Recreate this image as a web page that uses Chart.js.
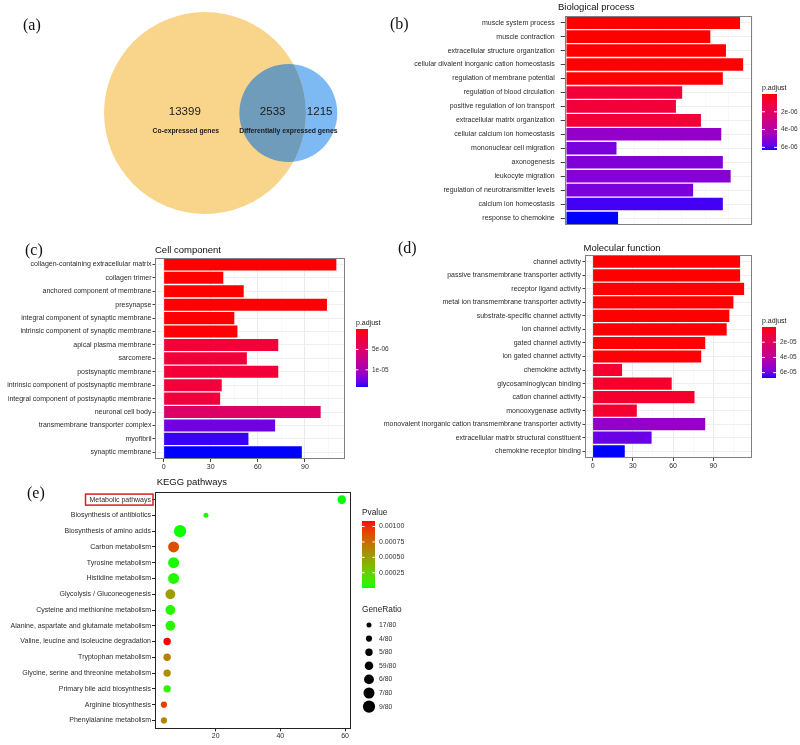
<!DOCTYPE html>
<html>
<head>
<meta charset="utf-8">
<script src="https://cdn.jsdelivr.net/npm/chart.js@4.4.1/dist/chart.umd.min.js"></script>
<style>
  body { margin: 0; background: #fff; }
  #fig { position: relative; width: 800px; height: 745px; overflow: hidden; background: #fff; }
  canvas { position: absolute; }
  .tag { position: absolute; font-family: "Liberation Serif", "Times New Roman", serif; font-size: 16px; line-height: 16px; color: #111; }
</style>
</head>
<body>
<div id="fig">
  <canvas id="venn" width="390" height="225" style="left:0;top:0"></canvas>
  <canvas id="bp" width="410" height="242" style="left:390px;top:0"></canvas>
  <canvas id="cc" width="400" height="235" style="left:0;top:240px"></canvas>
  <canvas id="mf" width="455" height="235" style="left:345px;top:240px"></canvas>
  <canvas id="kegg" width="420" height="273" style="left:0;top:472px"></canvas>
  <div class="tag" style="left:23px;top:17px">(a)</div>
  <div class="tag" style="left:390px;top:16px">(b)</div>
  <div class="tag" style="left:25px;top:242px">(c)</div>
  <div class="tag" style="left:398px;top:240px">(d)</div>
  <div class="tag" style="left:27px;top:485px">(e)</div>
</div>
<script>
// ---- (a) Venn counts ----
const vennSets = ['Co-expressed genes', 'Differentially expressed genes'];
const vennOnlyA = 13399;
const vennBoth = 2533;
const vennOnlyB = 1215;

// ---- (b) Biological process ----
const bpTerms = ['muscle system process', 'muscle contraction', 'extracellular structure organization',
  'cellular divalent inorganic cation homeostasis', 'regulation of membrane potential',
  'regulation of blood circulation', 'positive regulation of ion transport', 'extracellular matrix organization',
  'cellular calcium ion homeostasis', 'mononuclear cell migration', 'axonogenesis', 'leukocyte migration',
  'regulation of neurotransmitter levels', 'calcium ion homeostasis', 'response to chemokine'];
const bpCounts = [111, 92, 102, 113, 100, 74, 70, 86, 99, 32, 100, 105, 81, 100, 33];
const bpPadj = [1e-9, 2e-9, 3e-9, 1.5e-9, 8e-9, 9.5e-7, 1.0e-6, 9e-7, 4.9e-6, 5.4e-6, 5.3e-6, 5.2e-6, 5.4e-6, 6.05e-6, 6.3e-6];
const bpTicks = ['2e-06', '4e-06', '6e-06'];

// ---- (c) Cell component ----
const ccTerms = ['collagen-containing extracellular matrix', 'collagen trimer', 'anchored component of membrane',
  'presynapse', 'integral component of synaptic membrane', 'intrinsic component of synaptic membrane',
  'apical plasma membrane', 'sarcomere', 'postsynaptic membrane', 'intrinsic component of postsynaptic membrane',
  'integral component of postsynaptic membrane', 'neuronal cell body', 'transmembrane transporter complex',
  'myofibril', 'synaptic membrane'];
const ccCounts = [110, 38, 51, 104, 45, 47, 73, 53, 73, 37, 36, 100, 71, 54, 88];
const ccPadj = [1e-8, 2e-8, 3e-8, 5e-8, 1e-7, 1.2e-7, 2.1e-6, 2.2e-6, 2.1e-6, 2.3e-6, 2.4e-6, 5.0e-6, 1.25e-5, 1.38e-5, 1.42e-5];
const ccTicks = ['5e-06', '1e-05'];

// ---- (d) Molecular function ----
const mfTerms = ['channel activity', 'passive transmembrane transporter activity', 'receptor ligand activity',
  'metal ion transmembrane transporter activity', 'substrate-specific channel activity', 'ion channel activity',
  'gated channel activity', 'ion gated channel activity', 'chemokine activity', 'glycosaminoglycan binding',
  'cation channel activity', 'monooxygenase activity',
  'monovalent inorganic cation transmembrane transporter activity',
  'extracellular matrix structural constituent', 'chemokine receptor binding'];
const mfCounts = [110, 110, 113, 105, 102, 100, 84, 81, 22, 59, 76, 33, 84, 44, 24];
const mfPadj = [1e-8, 1e-8, 2e-8, 5e-8, 1e-7, 2e-7, 5e-7, 8e-7, 8e-6, 7e-6, 7.5e-6, 8.5e-6, 5.2e-5, 6.0e-5, 6.7e-5];
const mfTicks = ['2e-05', '4e-05', '6e-05'];

// ---- (e) KEGG pathways ----
const keggTerms = ['Metabolic pathways', 'Biosynthesis of antibiotics', 'Biosynthesis of amino acids',
  'Carbon metabolism', 'Tyrosine metabolism', 'Histidine metabolism', 'Glycolysis / Gluconeogenesis',
  'Cysteine and methionine metabolism', 'Alanine, aspartate and glutamate metabolism',
  'Valine, leucine and isoleucine degradation', 'Tryptophan metabolism',
  'Glycine, serine and threonine metabolism', 'Primary bile acid biosynthesis', 'Arginine biosynthesis',
  'Phenylalanine metabolism'];
const keggCounts = [59, 17, 9, 7, 7, 7, 6, 6, 6, 5, 5, 5, 5, 4, 4];
const keggPvalue = [2e-6, 3e-5, 1e-5, 0.00086, 2e-5, 4e-5, 0.00051, 5e-5, 6e-5, 0.00109, 0.00065, 0.00057, 7e-5, 0.00094, 0.00061];
const keggTotal = 80;
const keggTicks = ['0.00100', '0.00075', '0.00050', '0.00025'];
const keggHighlight = 'Metabolic pathways';

const FONT = '"Liberation Sans", Arial, Helvetica, sans-serif';
Chart.defaults.font.family = FONT;
Chart.defaults.color = '#2b2b2b';

// colour ramps: Lab interpolation (optionally blended with plain RGB)
function toLin(c) { c /= 255; return c <= 0.04045 ? c / 12.92 : Math.pow((c + 0.055) / 1.055, 2.4); }
function fromLin(c) {
  c = c <= 0.0031308 ? 12.92 * c : 1.055 * Math.pow(Math.max(c, 0), 1 / 2.4) - 0.055;
  return Math.max(0, Math.min(1, c)) * 255;
}
function rgbToLab(rgb) {
  const [r, g, b] = rgb.map(toLin);
  const x = (0.4124 * r + 0.3576 * g + 0.1805 * b) / 0.95047;
  const y = 0.2126 * r + 0.7152 * g + 0.0722 * b;
  const z = (0.0193 * r + 0.1192 * g + 0.9505 * b) / 1.08883;
  const f = t => t > 0.008856 ? Math.cbrt(t) : 7.787 * t + 16 / 116;
  return [116 * f(y) - 16, 500 * (f(x) - f(y)), 200 * (f(y) - f(z))];
}
function labToRgb([L, a, bb]) {
  const fy = (L + 16) / 116, fx = fy + a / 500, fz = fy - bb / 200;
  const inv = t => t > 0.206893 ? t * t * t : (t - 16 / 116) / 7.787;
  const x = inv(fx) * 0.95047, y = inv(fy), z = inv(fz) * 1.08883;
  return [
    fromLin(3.2406 * x - 1.5372 * y - 0.4986 * z),
    fromLin(-0.9689 * x + 1.8758 * y + 0.0415 * z),
    fromLin(0.0557 * x - 0.2040 * y + 1.0570 * z)
  ];
}
function labRamp(low, high, labWeight = 1) {
  const A = rgbToLab(low), B = rgbToLab(high);
  return t => {
    t = Math.max(0, Math.min(1, t));
    const lab = labToRgb(A.map((v, i) => v + (B[i] - v) * t));
    const rgb = low.map((v, i) => v + (high[i] - v) * t);
    const mix = lab.map((v, i) => Math.round(v * labWeight + rgb[i] * (1 - labWeight)));
    return 'rgb(' + mix.join(',') + ')';
  };
}

// panel border
function framePlugin(color) {
  return {
    id: 'frame',
    afterDatasetsDraw(chart) {
      const a = chart.chartArea, c = chart.ctx;
      c.save();
      c.strokeStyle = color;
      c.lineWidth = 1;
      c.strokeRect(Math.round(a.left) + 0.5, Math.round(a.top) + 0.5,
        Math.round(a.right - a.left) - 1, Math.round(a.bottom - a.top) - 1);
      c.restore();
    }
  };
}

function titlePlugin(text, x, y) {
  return {
    id: 'panelTitle',
    afterDraw(chart) {
      const c = chart.ctx;
      c.save();
      c.font = '9.5px ' + FONT;
      c.fillStyle = '#111';
      c.textBaseline = 'middle';
      c.textAlign = 'left';
      c.fillText(text, x, y);
      c.restore();
    }
  };
}

// vertical colourbar legend
function colorbarPlugin(o) {
  return {
    id: 'colorbar',
    afterDraw(chart) {
      const c = chart.ctx;
      c.save();
      c.font = o.titleSize + 'px ' + FONT;
      c.fillStyle = '#222';
      c.textBaseline = 'middle';
      c.textAlign = 'left';
      c.fillText(o.title, o.x, o.titleY);
      const span = o.vmax - o.vmin;
      for (let i = 0; i < o.h; i++) {
        const frac = (i + 0.5) / o.h;
        const v = o.reverse ? o.vmin + frac * span : o.vmax - frac * span;
        c.fillStyle = o.colorOf(v);
        c.fillRect(o.x, o.y + i, o.w, 1);
      }
      c.font = o.labelSize + 'px ' + FONT;
      o.ticks.forEach(s => {
        const frac = (Number(s) - o.vmin) / span;
        const y = o.reverse ? o.y + frac * o.h : o.y + o.h - frac * o.h;
        c.strokeStyle = '#fff';
        c.lineWidth = 1;
        c.beginPath();
        c.moveTo(o.x, y); c.lineTo(o.x + o.w * 0.2, y);
        c.moveTo(o.x + o.w * 0.8, y); c.lineTo(o.x + o.w, y);
        c.stroke();
        c.fillStyle = '#333';
        c.fillText(s, o.x + o.w + 4, y);
      });
      c.restore();
    }
  };
}

function makeBarPanel(id, labels, values, padj, o) {
  const canvas = document.getElementById(id);
  const f = o.frame;
  const pMin = Math.min(...padj), pMax = Math.max(...padj);
  const ramp = labRamp([255, 0, 0], [0, 0, 255]);
  const colorOf = p => ramp((p - pMin) / (pMax - pMin));
  const vMax = Math.max(...values);
  const isMajor = ctx => ctx.tick && ctx.tick.value % 30 === 0;

  return new Chart(canvas, {
    type: 'bar',
    data: {
      labels: labels,
      datasets: [{
        data: values,
        backgroundColor: padj.map(colorOf),
        borderWidth: 0,
        barPercentage: 0.9,
        categoryPercentage: 1
      }]
    },
    options: {
      indexAxis: 'y',
      responsive: false,
      animation: false,
      events: [],
      layout: { padding: { left: 0, top: f.top, right: canvas.width - f.right, bottom: 0 } },
      plugins: { legend: { display: false }, tooltip: { enabled: false } },
      scales: {
        x: {
          type: 'linear',
          min: -o.expandLeft * vMax,
          max: vMax * 1.05,
          afterFit: s => { s.height = canvas.height - f.bottom; },
          border: { display: false },
          grid: {
            color: ctx => isMajor(ctx) ? '#EBEBEB' : '#F6F6F6',
            lineWidth: ctx => isMajor(ctx) ? 1 : 0.7,
            tickColor: ctx => isMajor(ctx) ? '#444' : 'rgba(0,0,0,0)',
            tickLength: 3
          },
          ticks: {
            stepSize: 15,
            includeBounds: false,
            autoSkip: false,
            maxRotation: 0,
            padding: 1,
            font: { size: 7 },
            callback: v => v % 30 === 0 ? v : ''
          }
        },
        y: {
          afterFit: s => { s.width = f.left; },
          border: { display: false },
          grid: { offset: false, color: '#EFEFEF', tickColor: '#444', tickLength: o.tick },
          ticks: { autoSkip: false, padding: o.pad, font: { size: 7 } }
        }
      }
    },
    plugins: [
      framePlugin('#808080'),
      titlePlugin(o.title, o.titleX, o.titleY),
      colorbarPlugin(Object.assign({
        title: 'p.adjust', titleSize: 7, labelSize: 6.5, reverse: true,
        vmin: pMin, vmax: pMax, colorOf: colorOf
      }, o.bar))
    ]
  });
}

// ---- (a) Venn: area-proportional circles ----
function lensArea(r1, r2, d) {
  if (d >= r1 + r2) return 0;
  if (d <= Math.abs(r1 - r2)) return Math.PI * Math.min(r1, r2) ** 2;
  const a1 = Math.acos((d * d + r1 * r1 - r2 * r2) / (2 * d * r1));
  const a2 = Math.acos((d * d + r2 * r2 - r1 * r1) / (2 * d * r2));
  const k = Math.sqrt((-d + r1 + r2) * (d + r1 - r2) * (d - r1 + r2) * (d + r1 + r2));
  return r1 * r1 * a1 + r2 * r2 * a2 - 0.5 * k;
}
function solveDistance(r1, r2, area) {
  let lo = Math.abs(r1 - r2), hi = r1 + r2;
  for (let i = 0; i < 60; i++) {
    const mid = (lo + hi) / 2;
    if (lensArea(r1, r2, mid) > area) lo = mid; else hi = mid;
  }
  return (lo + hi) / 2;
}

const vennScale = 0.8;          // px per sqrt(gene)
const vennCenter = [205, 113];  // centre of the big circle, canvas px
const rA = vennScale * Math.sqrt(vennOnlyA + vennBoth);
const rB = vennScale * Math.sqrt(vennOnlyB + vennBoth);
const dAB = solveDistance(rA, rB, Math.PI * vennScale * vennScale * vennBoth);

new Chart(document.getElementById('venn'), {
  type: 'bubble',
  data: {
    datasets: [
      { data: [{ x: vennCenter[0], y: vennCenter[1], r: rA }], backgroundColor: '#F9D58C', borderWidth: 0, clip: false },
      { data: [{ x: vennCenter[0] + dAB, y: vennCenter[1], r: rB }], backgroundColor: '#7DB9F3', borderWidth: 0, clip: false }
    ]
  },
  options: {
    responsive: false,
    animation: false,
    events: [],
    layout: { padding: 0, autoPadding: false },
    plugins: { legend: { display: false }, tooltip: { enabled: false } },
    scales: {
      x: { type: 'linear', min: 0, max: 390, display: false },
      y: { type: 'linear', min: 0, max: 225, reverse: true, display: false }
    }
  },
  plugins: [{
    id: 'vennText',
    afterDatasetsDraw(chart) {
      const c = chart.ctx;
      const a = chart.getDatasetMeta(0).data[0], b = chart.getDatasetMeta(1).data[0];
      const ra = a.options.radius, rb = b.options.radius;
      c.save();
      c.beginPath();
      c.arc(b.x, b.y, rb, 0, Math.PI * 2);
      c.clip();
      c.beginPath();
      c.arc(a.x, a.y, ra, 0, Math.PI * 2);
      c.fillStyle = '#6F9CBB';
      c.fill();
      c.restore();

      c.save();
      c.fillStyle = '#1a1a1a';
      c.textAlign = 'center';
      c.textBaseline = 'middle';
      c.font = '11.5px ' + FONT;
      c.fillText(String(vennOnlyA), a.x - 0.2 * ra, a.y - 1);
      c.fillText(String(vennBoth), ((b.x - rb) + (a.x + ra)) / 2, a.y - 1);
      c.fillText(String(vennOnlyB), ((a.x + ra) + (b.x + rb)) / 2 - 2, a.y - 1);
      c.font = 'bold 6.8px ' + FONT;
      c.fillText(vennSets[0], a.x - 0.19 * ra, a.y + 18);
      c.fillText(vennSets[1], b.x, a.y + 18);
      c.restore();
    }
  }]
});

// ---- (b), (c), (d) bar panels ----
makeBarPanel('bp', bpTerms, bpCounts, bpPadj, {
  title: 'Biological process', titleX: 168, titleY: 7.5, expandLeft: 0.01, tick: 4, pad: 6,
  frame: { left: 174.7, right: 362, top: 15.7, bottom: 225 },
  bar: { x: 372, y: 94, w: 15, h: 56, titleY: 88, ticks: bpTicks }
});
makeBarPanel('cc', ccTerms, ccCounts, ccPadj, {
  title: 'Cell component', titleX: 155, titleY: 10, expandLeft: 0.05, tick: 2.5, pad: 1,
  frame: { left: 155, right: 345, top: 17.7, bottom: 219 },
  bar: { x: 356, y: 89, w: 12, h: 58, titleY: 83, ticks: ccTicks }
});
makeBarPanel('mf', mfTerms, mfCounts, mfPadj, {
  title: 'Molecular function', titleX: 238.5, titleY: 8.5, expandLeft: 0.05, tick: 2.5, pad: 1.5,
  frame: { left: 240, right: 406.7, top: 15, bottom: 218 },
  bar: { x: 417, y: 87, w: 14, h: 51, titleY: 81, ticks: mfTicks }
});

// ---- (e) KEGG dot plot ----
const keggRatio = keggCounts.map(n => n + '/' + keggTotal);
const ratioLevels = [...new Set(keggRatio)].sort();
const sizeOf = s => 2.5 + 0.6 * ratioLevels.indexOf(s);
const pMinK = Math.min(...keggPvalue), pMaxK = Math.max(...keggPvalue);
const greenRed = labRamp([0, 255, 0], [255, 0, 0], 0.5);
const pColor = p => greenRed((p - pMinK) / (pMaxK - pMinK));
const cMin = Math.min(...keggCounts), cMax = Math.max(...keggCounts);
const cPad = (cMax - cMin) * 0.05;
const keggCanvas = document.getElementById('kegg');

new Chart(keggCanvas, {
  type: 'scatter',
  data: {
    labels: keggTerms,
    datasets: [{
      data: keggTerms.map((t, i) => ({ x: keggCounts[i], y: t })),
      pointBackgroundColor: keggPvalue.map(pColor),
      pointBorderWidth: 0,
      pointRadius: keggRatio.map(sizeOf)
    }]
  },
  options: {
    responsive: false,
    animation: false,
    events: [],
    layout: { padding: { left: 0, top: 19.7, right: keggCanvas.width - 350.7, bottom: 0 } },
    plugins: { legend: { display: false }, tooltip: { enabled: false } },
    scales: {
      x: {
        type: 'linear',
        min: cMin - cPad,
        max: cMax + cPad,
        afterFit: s => { s.height = keggCanvas.height - 256.3; },
        border: { display: false },
        grid: { drawOnChartArea: false, tickColor: '#222', tickLength: 3 },
        ticks: { stepSize: 20, includeBounds: false, padding: 1, maxRotation: 0, font: { size: 7 } }
      },
      y: {
        type: 'category',
        labels: keggTerms,
        offset: true,
        afterFit: s => { s.width = 155; },
        border: { display: false },
        grid: { offset: false, drawOnChartArea: false, tickColor: '#222', tickLength: 3 },
        ticks: { autoSkip: false, padding: 1, font: { size: 7 } }
      }
    }
  },
  plugins: [
    framePlugin('#222'),
    titlePlugin('KEGG pathways', 156.7, 10.7),
    colorbarPlugin({
      title: 'Pvalue', titleSize: 8.3, labelSize: 7, reverse: false,
      vmin: pMinK, vmax: pMaxK, colorOf: pColor,
      x: 362, y: 49, w: 13, h: 67, titleY: 40.7, ticks: keggTicks
    }),
    {
      id: 'sizeLegend',
      afterDraw(chart) {
        const c = chart.ctx;
        c.save();
        c.textBaseline = 'middle';
        c.textAlign = 'left';
        c.fillStyle = '#222';
        c.font = '8.3px ' + FONT;
        c.fillText('GeneRatio', 362, 138);
        c.font = '6.9px ' + FONT;
        ratioLevels.forEach((s, i) => {
          const y = 153 + i * 13.6;
          c.fillStyle = '#000';
          c.beginPath();
          c.arc(369, y, sizeOf(s), 0, Math.PI * 2);
          c.fill();
          c.fillStyle = '#333';
          c.fillText(s, 379, y);
        });
        c.restore();
      }
    },
    {
      id: 'highlight',
      afterDraw(chart) {
        const c = chart.ctx, ys = chart.scales.y;
        const idx = keggTerms.indexOf(keggHighlight);
        const y = ys.getPixelForValue(idx);
        c.save();
        c.font = '7px ' + FONT;
        const w = c.measureText(keggHighlight).width;
        const right = chart.chartArea.left - 2;
        c.strokeStyle = '#D42020';
        c.lineWidth = 1.5;
        c.strokeRect(right - w - 6, y - 5.5, w + 6, 11);
        c.restore();
      }
    }
  ]
});
</script>
</body>
</html>
